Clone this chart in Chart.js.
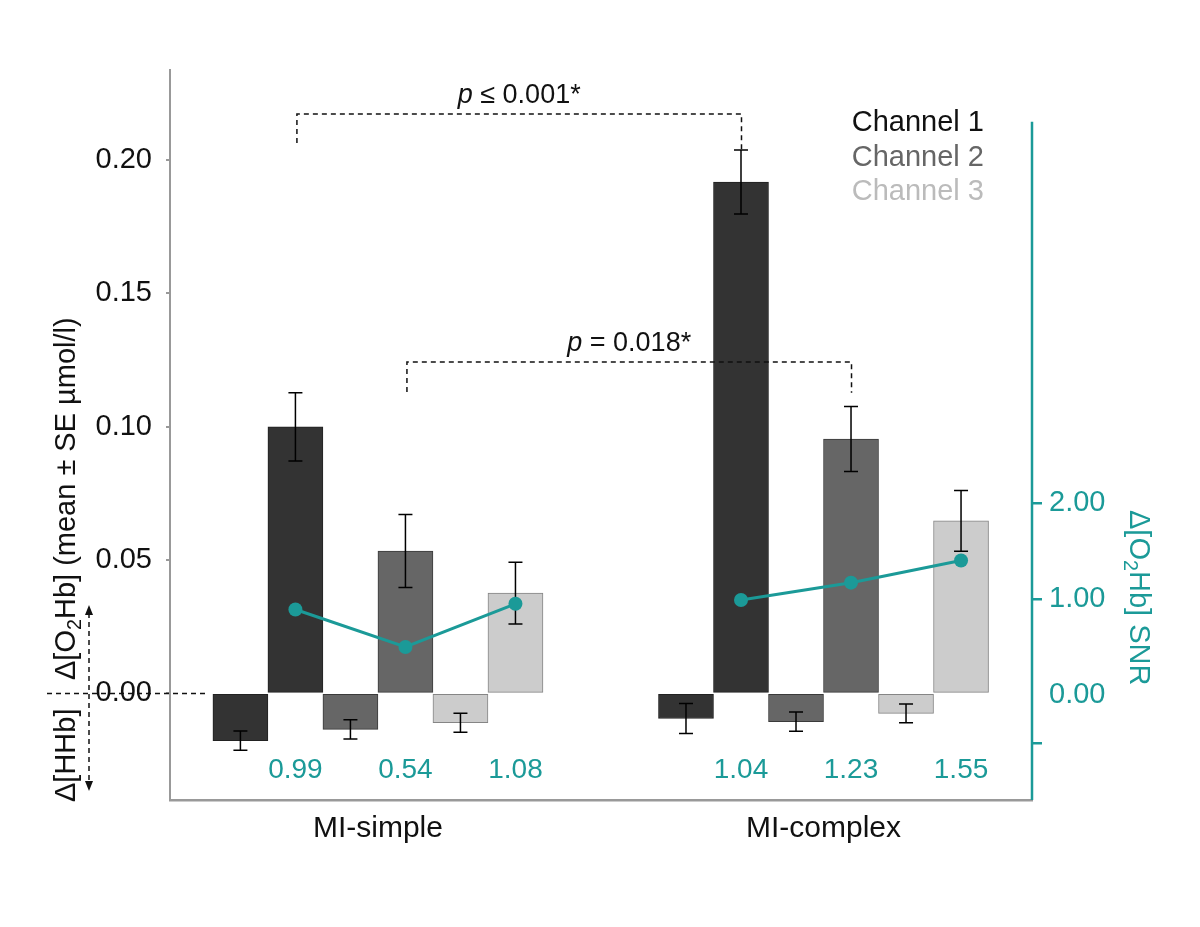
<!DOCTYPE html>
<html><head><meta charset="utf-8">
<script src="https://cdn.jsdelivr.net/npm/chart.js@4.4.1/dist/chart.umd.min.js"></script>
<style>html,body{margin:0;padding:0;background:#fff;} #wrap{width:1200px;height:927px;}</style>
</head><body><div id="wrap"><canvas id="c" width="1200" height="927"></canvas></div>
<script>
// ---------- data ----------
const groups = ['MI-simple', 'MI-complex'];
const channels = ['Channel 1', 'Channel 2', 'Channel 3'];
const hhbSimple = [-0.0177, -0.0135, -0.0110];
const hhbSimpleSE = [0.0036, 0.0036, 0.0036];
const o2hbSimple = [0.1000, 0.0534, 0.0376];
const o2hbSimpleSE = [0.0128, 0.0137, 0.0116];
const hhbComplex = [-0.0094, -0.0106, -0.0075];
const hhbComplexSE = [0.0056, 0.0036, 0.0035];
const o2hbComplex = [0.1918, 0.0954, 0.0647];
const o2hbComplexSE = [0.0120, 0.0122, 0.0114];
const snrSimple = [0.89, 0.50, 0.95];
const snrComplex = [0.99, 1.17, 1.40];
const snrLabelsSimple = ['0.99', '0.54', '1.08'];
const snrLabelsComplex = ['1.04', '1.23', '1.55'];
const leftTicks = [0, 0.05, 0.10, 0.15, 0.20];
const rightTicks = [2, 1, 0, -0.5];
const rightTickLabels = ['2.00', '1.00', '0.00', ''];
const pLabels = [['p', ' ≤ 0.001*'], ['p', ' = 0.018*']];

// ---------- styles / layout ----------
const FONT = '"Liberation Sans", Arial, Helvetica, sans-serif';
const FS = 28;
const teal = '#1b9a98';
const chColors = ['#333333', '#666666', '#cccccc'];
const chBorders = ['#222222', '#3a3a3a', '#858585'];
const legendColors = ['#111111', '#666666', '#bbbbbb'];
const groupStart = [0, 8.1];
const hhbSets = [hhbSimple, hhbComplex], hhbSE = [hhbSimpleSE, hhbComplexSE];
const o2Sets = [o2hbSimple, o2hbComplex], o2SE = [o2hbSimpleSE, o2hbComplexSE];
const snrSets = [snrSimple, snrComplex], snrLbls = [snrLabelsSimple, snrLabelsComplex];

const barPts = [], barCols = [], barBords = [], barErr = [];
const linePts = [], snrTextPts = [];
groups.forEach((g, gi) => {
  for (let ch = 0; ch < 3; ch++) {
    barPts.push({x: groupStart[gi] + 2 * ch, y: hhbSets[gi][ch]});
    barErr.push(hhbSE[gi][ch]);
    barPts.push({x: groupStart[gi] + 2 * ch + 1, y: o2Sets[gi][ch]});
    barErr.push(o2SE[gi][ch]);
    barCols.push(chColors[ch], chColors[ch]);
    barBords.push(chBorders[ch], chBorders[ch]);
    linePts.push({x: groupStart[gi] + 2 * ch + 1, y: snrSets[gi][ch]});
    snrTextPts.push({x: groupStart[gi] + 2 * ch + 1, t: snrLbls[gi][ch]});
  }
  if (gi === 0) linePts.push({x: 6.5, y: null});
});
const groupCenters = groupStart.map(s => s + 2.5);

// significance brackets (channel index, line level, left leg end, right leg end)
const brackets = [
  {ch: 0, level: 0.2173, leftEnd: 0.2064, rightEnd: 0.2040, label: pLabels[0]},
  {ch: 1, level: 0.1243, leftEnd: 0.1130, rightEnd: 0.1128, label: pLabels[1]}
];

function drawParts(ctx, parts, x, y, size) {
  let cx = x;
  for (const [t, type] of parts) {
    let fs = size, dy = 0, st = '';
    if (type === 's') { fs = size * 0.68; dy = size * 0.22; }
    if (type === 'i') st = 'italic ';
    ctx.font = st + fs + 'px ' + FONT;
    ctx.fillText(t, cx, y + dy);
    cx += ctx.measureText(t).width;
  }
  return cx - x;
}
function measureParts(ctx, parts, size) {
  let w = 0;
  for (const [t, type] of parts) {
    let fs = type === 's' ? size * 0.68 : size;
    ctx.font = (type === 'i' ? 'italic ' : '') + fs + 'px ' + FONT;
    w += ctx.measureText(t).width;
  }
  return w;
}

const errorPlugin = {
  id: 'errbars',
  afterDatasetDraw(chart, args) {
    if (args.index !== 1) return;
    const ctx = chart.ctx, xs = chart.scales.x, ys = chart.scales.y;
    ctx.save();
    ctx.strokeStyle = '#000'; ctx.lineWidth = 1.5;
    barPts.forEach((p, i) => {
      const px = xs.getPixelForValue(p.x);
      const y1 = ys.getPixelForValue(p.y + barErr[i]);
      const y2 = ys.getPixelForValue(p.y - barErr[i]);
      ctx.beginPath();
      ctx.moveTo(px, y1); ctx.lineTo(px, y2);
      ctx.moveTo(px - 7, y1); ctx.lineTo(px + 7, y1);
      ctx.moveTo(px - 7, y2); ctx.lineTo(px + 7, y2);
      ctx.stroke();
    });
    ctx.restore();
  }
};

const annoPlugin = {
  id: 'anno',
  afterDraw(chart) {
    const ctx = chart.ctx, xs = chart.scales.x, ys = chart.scales.y, y2 = chart.scales.y2;
    const ca = chart.chartArea;
    ctx.save();
    ctx.textBaseline = 'alphabetic';
    // right axis line
    ctx.strokeStyle = teal; ctx.lineWidth = 2.5;
    ctx.beginPath(); ctx.moveTo(ca.right, y2.getPixelForValue(5.97)); ctx.lineTo(ca.right, ca.bottom); ctx.stroke();

    // dashed zero line on left
    const y0 = ys.getPixelForValue(0);
    ctx.strokeStyle = '#111'; ctx.lineWidth = 1.5; ctx.setLineDash([5, 4]);
    ctx.beginPath(); ctx.moveTo(47, y0); ctx.lineTo(xs.getPixelForValue(-0.6), y0); ctx.stroke();
    // vertical double arrow
    const ax = 89, aTop = 605, aBot = 791;
    ctx.beginPath(); ctx.moveTo(ax, aTop + 8); ctx.lineTo(ax, aBot - 8); ctx.stroke();
    ctx.setLineDash([]);
    ctx.fillStyle = '#111';
    ctx.beginPath(); ctx.moveTo(ax, aTop); ctx.lineTo(ax - 4, aTop + 10); ctx.lineTo(ax + 4, aTop + 10); ctx.closePath(); ctx.fill();
    ctx.beginPath(); ctx.moveTo(ax, aBot); ctx.lineTo(ax - 4, aBot - 10); ctx.lineTo(ax + 4, aBot - 10); ctx.closePath(); ctx.fill();

    // left axis titles
    ctx.fillStyle = '#111'; ctx.textAlign = 'left';
    ctx.save(); ctx.translate(75, 680); ctx.rotate(-Math.PI / 2);
    drawParts(ctx, [['Δ[O', 'n'], ['2', 's'], ['Hb] (mean ± SE µmol/l)', 'n']], 0, 0, 29);
    ctx.restore();
    ctx.save(); ctx.translate(75, 802); ctx.rotate(-Math.PI / 2);
    drawParts(ctx, [['Δ[HHb]', 'n']], 0, 0, 29);
    ctx.restore();

    // right axis title
    ctx.fillStyle = teal;
    ctx.save(); ctx.translate(1130, 510); ctx.rotate(Math.PI / 2);
    drawParts(ctx, [['Δ[O', 'n'], ['2', 's'], ['Hb] SNR', 'n']], 0, 0, 29);
    ctx.restore();

    // legend (text only)
    ctx.font = '29px ' + FONT; ctx.textAlign = 'right';
    channels.forEach((c, i) => { ctx.fillStyle = legendColors[i]; ctx.fillText(c, 984, 131 + 34.5 * i); });

    // SNR value labels
    ctx.fillStyle = teal; ctx.textAlign = 'center'; ctx.font = FS + 'px ' + FONT;
    snrTextPts.forEach(p => ctx.fillText(p.t, xs.getPixelForValue(p.x), ca.bottom - 22));

    // significance brackets
    ctx.textAlign = 'left';
    brackets.forEach(b => {
      const xl = xs.getPixelForValue(groupStart[0] + 2 * b.ch + 1) + 1.5;
      const xr = xs.getPixelForValue(groupStart[1] + 2 * b.ch + 1) + 0.5;
      const yl = ys.getPixelForValue(b.level);
      ctx.strokeStyle = '#111'; ctx.lineWidth = 1.5; ctx.setLineDash([5, 4]);
      ctx.beginPath();
      ctx.moveTo(xl, ys.getPixelForValue(b.leftEnd)); ctx.lineTo(xl, yl);
      ctx.lineTo(xr, yl); ctx.lineTo(xr, ys.getPixelForValue(b.rightEnd));
      ctx.stroke(); ctx.setLineDash([]);
      ctx.fillStyle = '#111';
      const parts = [[b.label[0], 'i'], [b.label[1], 'n']];
      const w = measureParts(ctx, parts, 27);
      drawParts(ctx, parts, (xl + xr) / 2 - w / 2, yl - 11, 27);
    });
    ctx.restore();
  }
};

new Chart(document.getElementById('c'), {
  type: 'bar',
  data: {
    datasets: [
      {
        type: 'line', label: 'SNR', data: linePts, xAxisID: 'x', yAxisID: 'y2',
        borderColor: teal, backgroundColor: teal, borderWidth: 3,
        pointRadius: 7, pointBackgroundColor: teal, pointBorderWidth: 0, spanGaps: false
      },
      {
        type: 'bar', label: 'bars', data: barPts, xAxisID: 'x', yAxisID: 'y',
        backgroundColor: barCols, borderColor: barBords, borderWidth: 1, borderSkipped: false,
        barPercentage: 1, categoryPercentage: 1
      }
    ]
  },
  options: {
    responsive: false, animation: false, devicePixelRatio: 1,
    layout: {padding: {top: 70, left: 0, right: 0, bottom: 0}},
    plugins: {legend: {display: false}, tooltip: {enabled: false}, title: {display: false}},
    scales: {
      x: {
        type: 'linear', position: 'bottom', min: -1.28, max: 14.39, offset: false,
        grid: {display: false, drawTicks: false, offset: false},
        border: {color: '#999', width: 2.5},
        afterBuildTicks: s => { s.ticks = groupCenters.map(v => ({value: v})); },
        afterFit: s => { s.height = 127; },
        ticks: {
          autoSkip: false, maxRotation: 0, padding: 11, color: '#111',
          font: {family: FONT, size: 30},
          callback: v => groups[groupCenters.indexOf(v)] ?? ''
        }
      },
      y: {
        type: 'linear', position: 'left', min: -0.03997, max: 0.2338,
        grid: {drawOnChartArea: false, drawTicks: true, tickLength: 4, color: '#999', lineWidth: 2},
        border: {color: '#999', width: 2},
        afterBuildTicks: s => { s.ticks = leftTicks.map(v => ({value: v})); },
        afterFit: s => { s.width = 170; },
        ticks: {padding: 14, color: '#111', font: {family: FONT, size: 29}, callback: v => v.toFixed(2)}
      },
      y2: {
        type: 'linear', position: 'right', min: -1.094, max: 6.51,
        grid: {drawOnChartArea: false, drawTicks: true, tickLength: 10, lineWidth: 2.5,
               color: c => (c.tick && c.tick.value === 0) ? 'rgba(0,0,0,0)' : teal},
        border: {display: false},
        afterBuildTicks: s => { s.ticks = rightTicks.map(v => ({value: v})); },
        afterFit: s => { s.width = 168; },
        ticks: {padding: 7, color: teal, font: {family: FONT, size: 29},
                callback: v => rightTickLabels[rightTicks.indexOf(v)]}
      }
    }
  },
  plugins: [errorPlugin, annoPlugin]
});
</script>
</body></html>
